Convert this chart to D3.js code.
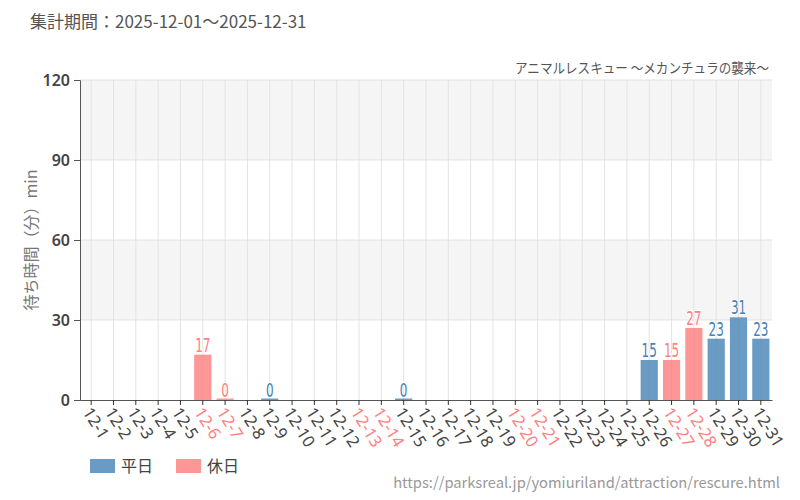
<!DOCTYPE html>
<html>
<head>
<meta charset="utf-8">
<script src="https://cdn.jsdelivr.net/npm/d3@7"></script>
<style>
body { margin: 0; background: #fff; }
text { font-family: "Noto Sans CJK JP", "Noto Sans", sans-serif; }
</style>
</head>
<body>
<div id="chart"></div>
<script>
// Data
var days = d3.range(1, 32).map(function(d) { return "12-" + d; });
var holidays = ["12-6", "12-7", "12-13", "12-14", "12-20", "12-21", "12-27", "12-28"];
var waitDays = ["12-6", "12-7", "12-9", "12-15", "12-26", "12-27", "12-28", "12-29", "12-30", "12-31"];
var waitValues = [17, 0, 0, 0, 15, 15, 27, 23, 31, 23];
var yTicks = [0, 30, 60, 90, 120];

var blue = "#6a9bc4", red = "#ff9696";
var blueText = "#4a80b4", redText = "#ff8080";

var width = 800, height = 500;
var margin = {top: 80, right: 28, bottom: 100, left: 80};

var svg = d3.select("#chart").append("svg")
    .attr("width", width)
    .attr("height", height);

var x = d3.scaleBand()
    .domain(days)
    .range([margin.left, width - margin.right])
    .paddingInner(0.23)
    .paddingOuter(0.115);

var y = d3.scaleLinear()
    .domain([0, 120])
    .range([height - margin.bottom, margin.top]);

// alternate bands
svg.append("g").selectAll("rect")
    .data([[30, 60], [90, 120]])
    .enter().append("rect")
    .attr("x", margin.left)
    .attr("width", width - margin.right - margin.left)
    .attr("y", function(d) { return y(d[1]); })
    .attr("height", function(d) { return y(d[0]) - y(d[1]); })
    .style("fill", "#f5f5f5");

// grid
svg.append("g").selectAll("line")
    .data(yTicks.slice(1))
    .enter().append("line")
    .attr("x1", margin.left).attr("x2", width - margin.right)
    .attr("y1", function(d) { return y(d); }).attr("y2", function(d) { return y(d); })
    .style("stroke", "#e3e3e3");

svg.append("g").selectAll("line")
    .data(days)
    .enter().append("line")
    .attr("x1", function(d) { return x(d) + x.bandwidth() / 2; })
    .attr("x2", function(d) { return x(d) + x.bandwidth() / 2; })
    .attr("y1", y(120)).attr("y2", y(0))
    .style("stroke", "#e3e3e3");

// bars
var rows = waitDays.map(function(d, i) { return {day: d, value: waitValues[i]}; });
function isHoliday(d) { return holidays.indexOf(d) >= 0; }

svg.append("g").selectAll("rect")
    .data(rows)
    .enter().append("rect")
    .attr("x", function(d) { return x(d.day); })
    .attr("width", x.bandwidth())
    .attr("y", function(d) { return Math.min(y(d.value), y(0) - 1.5); })
    .attr("height", function(d) { return Math.max(y(0) - y(d.value), 1.5); })
    .style("fill", function(d) { return isHoliday(d.day) ? red : blue; });

// gridline showing faintly through the bars
svg.append("g").selectAll("line")
    .data(rows)
    .enter().append("line")
    .attr("x1", function(d) { return x(d.day) + x.bandwidth() / 2; })
    .attr("x2", function(d) { return x(d.day) + x.bandwidth() / 2; })
    .attr("y1", function(d) { return y(d.value); }).attr("y2", y(0))
    .style("stroke", "rgba(120,120,120,0.12)");

svg.append("g").selectAll("text")
    .data(rows)
    .enter().append("text")
    .attr("transform", function(d) {
        return "translate(" + (x(d.day) + x.bandwidth() / 2) + "," + (y(d.value) - 3) + ") scale(0.6,1)";
    })
    .attr("text-anchor", "middle")
    .style("font-family", "'DejaVu Sans', sans-serif")
    .style("font-size", "20px")
    .style("stroke", "#fff")
    .style("stroke-width", "2px")
    .style("paint-order", "stroke")
    .style("fill", function(d) { return isHoliday(d.day) ? redText : blueText; })
    .text(function(d) { return d.value; });

// axes
var yAxis = svg.append("g")
    .attr("transform", "translate(" + margin.left + ",0)")
    .call(d3.axisLeft(y).tickValues(yTicks).tickSize(6).tickPadding(4));
yAxis.select(".domain").style("stroke", "#555");
yAxis.selectAll(".tick line").style("stroke", "#555");
yAxis.selectAll("text")
    .style("font-family", "'Noto Sans', sans-serif")
    .style("font-size", "16px")
    .style("font-weight", "600")
    .style("fill", "#444");

var xAxis = svg.append("g")
    .attr("transform", "translate(0," + y(0) + ")")
    .call(d3.axisBottom(x).tickSize(5).tickSizeOuter(0));
xAxis.select(".domain").style("stroke", "#555");
xAxis.selectAll(".tick line").style("stroke", "#333");
xAxis.selectAll("text")
    .attr("text-anchor", "start")
    .attr("dy", "0.35em")
    .attr("x", 0)
    .attr("y", 0)
    .attr("transform", "translate(-4,9) rotate(58)")
    .style("font-family", "'Noto Sans', sans-serif")
    .style("font-size", "16.5px")
    .style("fill", function(d) { return isHoliday(d) ? redText : "#444"; });

// titles
svg.append("text")
    .attr("x", 30).attr("y", 28)
    .style("font-size", "17px")
    .style("fill", "#555")
    .text("集計期間：2025-12-01～2025-12-31");

svg.append("text")
    .attr("x", 769).attr("y", 73)
    .attr("text-anchor", "end")
    .style("font-size", "14px")
    .style("fill", "#555")
    .attr("textLength", 254)
    .attr("lengthAdjust", "spacingAndGlyphs")
    .text("アニマルレスキュー ～メカンチュラの襲来～");

svg.append("text")
    .attr("transform", "translate(37," + y(60) + ") rotate(-90)")
    .attr("text-anchor", "middle")
    .style("font-size", "16px")
    .style("fill", "#777")
    .text("待ち時間（分）min");

// legend
var legend = [{name: "平日", color: blue}, {name: "休日", color: red}];
var lg = svg.append("g").selectAll("g")
    .data(legend)
    .enter().append("g")
    .attr("transform", function(d, i) { return "translate(" + (90 + i * 86) + ",459)"; });
lg.append("rect").attr("width", 25).attr("height", 14).style("fill", function(d) { return d.color; });
lg.append("text").attr("x", 31).attr("y", 13)
    .style("font-size", "16px").style("fill", "#444")
    .text(function(d) { return d.name; });

svg.append("text")
    .attr("x", 780).attr("y", 488)
    .attr("text-anchor", "end")
    .style("font-size", "14.7px")
    .style("fill", "#999")
    .text("https://parksreal.jp/yomiuriland/attraction/rescure.html");
</script>
</body>
</html>
